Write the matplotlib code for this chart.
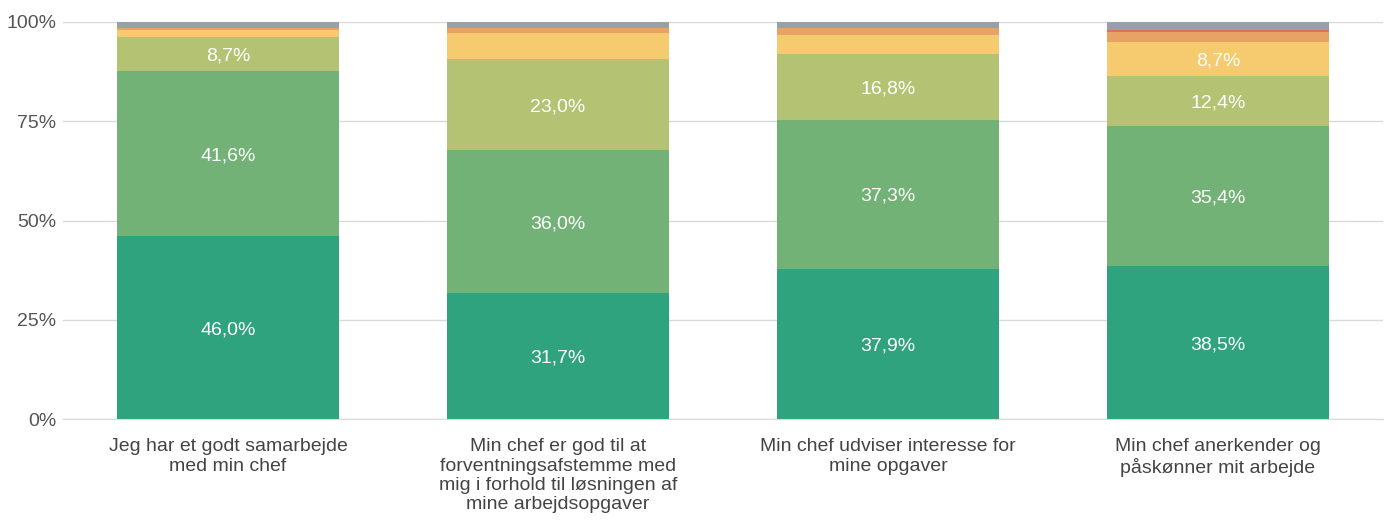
import numpy as np
import matplotlib.pyplot as plt

plt.rcParams['font.family'] = ['Liberation Sans', 'DejaVu Sans']

# Data (percent)
categories = [
    'Jeg har et godt samarbejde\nmed min chef',
    'Min chef er god til at\nforventningsafstemme med\nmig i forhold til løsningen af\nmine arbejdsopgaver',
    'Min chef udviser interesse for\nmine opgaver',
    'Min chef anerkender og\npåskønner mit arbejde',
]
helt_enig = [46.0, 31.7, 37.9, 38.5]
enig = [41.6, 36.0, 37.3, 35.4]
delvis_enig = [8.7, 23.0, 16.8, 12.4]
neutral = [1.8, 6.6, 4.8, 8.7]
uenig = [0.5, 1.2, 1.7, 2.4]
helt_uenig = [0.0, 0.0, 0.0, 0.7]
ved_ikke = [1.4, 1.5, 1.5, 1.9]

series = [helt_enig, enig, delvis_enig, neutral, uenig, helt_uenig, ved_ikke]
colors = ['#2fa37e', '#72b276', '#b4c373', '#f6ca6e', '#e8a265', '#e07257', '#97a2a8']

fig = plt.figure(figsize=(13.91, 5.28), dpi=100)
ax = fig.add_axes([63 / 1391, 109 / 528, 1320 / 1391, 397 / 528])

x = np.arange(len(categories))
bottom = np.zeros(len(categories))
for vals, col in zip(series, colors):
    vals = np.array(vals)
    ax.bar(x, vals, bottom=bottom, width=0.67, color=col, zorder=2)
    for xi, b, v in zip(x, bottom, vals):
        if v >= 8:
            ax.text(xi, b + v / 2, f'{v:.1f}%'.replace('.', ','), ha='center',
                    va='center_baseline', color='white', fontsize=14, zorder=3)
    bottom += vals

ax.set_xlim(-0.5, len(categories) - 0.5)
ax.set_ylim(0, 100)
ax.set_yticks([0, 25, 50, 75, 100])
ax.set_yticklabels(['0%', '25%', '50%', '75%', '100%'])
ax.yaxis.grid(True, color='#d9d9d9', linewidth=1, zorder=0)
ax.set_xticks(x)
ax.set_xticklabels(categories, fontsize=14, color='#444444', linespacing=1.18)
ax.tick_params(axis='x', length=0, pad=14)
ax.tick_params(axis='y', length=0, pad=5, labelsize=14, labelcolor='#555555')
for s in ['top', 'right', 'left']:
    ax.spines[s].set_visible(False)
ax.spines['bottom'].set_color('#d9d9d9')

fig.savefig('out.png', dpi=100)
